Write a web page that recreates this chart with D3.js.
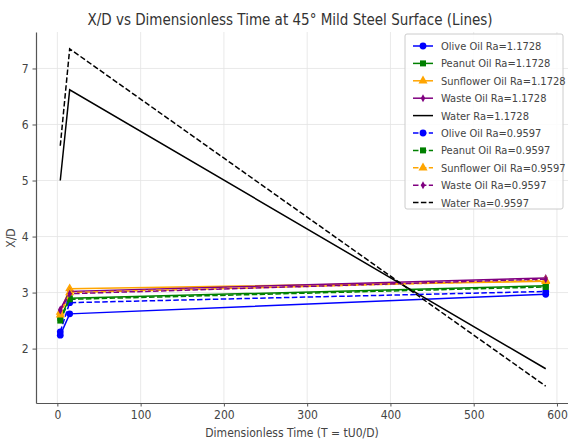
<!DOCTYPE html>
<html>
<head>
<meta charset="utf-8">
<script src="https://cdn.jsdelivr.net/npm/d3@7/dist/d3.min.js"></script>
<style>
  html, body { margin: 0; padding: 0; background: #fff; }
  svg { display: block; font-family: "DejaVu Sans Condensed", "DejaVu Sans", sans-serif; }
</style>
</head>
<body>
<svg id="chart" width="568" height="442"></svg>
<script>
// Dimensionless time samples shared by every series
const times = [3.5, 14.8, 586.5];

// X/D for surface roughness Ra = 1.1728 (solid lines)
const oliveA     = [2.24, 2.62, 2.97];
const peanutA    = [2.55, 2.90, 3.12];
const sunflowerA = [2.65, 3.07, 3.20];
const wasteA     = [2.70, 3.02, 3.26];
const waterA     = [5.00, 6.62, 1.64];

// X/D for surface roughness Ra = 0.9597 (dashed lines)
const oliveB     = [2.30, 2.82, 3.02];
const peanutB    = [2.50, 2.88, 3.10];
const sunflowerB = [2.60, 3.00, 3.22];
const wasteB     = [2.68, 2.98, 3.24];
const waterB     = [5.62, 7.35, 1.33];

const xTicks = [0, 100, 200, 300, 400, 500, 600];
const yTicks = [2, 3, 4, 5, 6, 7];

const series = [
  { name: "Olive Oil Ra=1.1728",     values: oliveA,     color: "#0000ff", marker: "circle",   dash: null },
  { name: "Peanut Oil Ra=1.1728",    values: peanutA,    color: "#008000", marker: "square",   dash: null },
  { name: "Sunflower Oil Ra=1.1728", values: sunflowerA, color: "#ffa500", marker: "triangle", dash: null },
  { name: "Waste Oil Ra=1.1728",     values: wasteA,     color: "#800080", marker: "diamond",  dash: null },
  { name: "Water Ra=1.1728",         values: waterA,     color: "#000000", marker: null,       dash: null },
  { name: "Olive Oil Ra=0.9597",     values: oliveB,     color: "#0000ff", marker: "circle",   dash: "5.5,2.4" },
  { name: "Peanut Oil Ra=0.9597",    values: peanutB,    color: "#008000", marker: "square",   dash: "5.5,2.4" },
  { name: "Sunflower Oil Ra=0.9597", values: sunflowerB, color: "#ffa500", marker: "triangle", dash: "5.5,2.4" },
  { name: "Waste Oil Ra=0.9597",     values: wasteB,     color: "#800080", marker: "diamond",  dash: "5.5,2.4" },
  { name: "Water Ra=0.9597",         values: waterB,     color: "#000000", marker: null,       dash: "5.5,2.4" }
];

const svg = d3.select("#chart");
const margin = { left: 36, right: -2, top: 32, bottom: 39 };
const W = 568, H = 442;

// Axis domains padded 5% around the data, like an autoscaled plot
const allY = series.flatMap(s => s.values);
const xExt = d3.extent(times), yExt = d3.extent(allY);
const xPad = (xExt[1] - xExt[0]) * 0.05, yPad = (yExt[1] - yExt[0]) * 0.05;

const x = d3.scaleLinear().domain([xExt[0] - xPad, xExt[1] + xPad]).range([margin.left, W - margin.right]);
const y = d3.scaleLinear().domain([yExt[0] - yPad, yExt[1] + yPad]).range([H - margin.bottom, margin.top]);

// Grid
const grid = svg.append("g");
grid.selectAll("line.gx").data(xTicks).join("line")
  .attr("x1", d => x(d)).attr("x2", d => x(d))
  .attr("y1", y.range()[1]).attr("y2", y.range()[0])
  .attr("stroke", "#e3e3e3").attr("stroke-width", 0.8);
grid.selectAll("line.gy").data(yTicks).join("line")
  .attr("y1", d => y(d)).attr("y2", d => y(d))
  .attr("x1", x.range()[0]).attr("x2", x.range()[1])
  .attr("stroke", "#e3e3e3").attr("stroke-width", 0.8);

// Axes
const xAxis = svg.append("g").attr("transform", `translate(0,${y.range()[0]})`)
  .call(d3.axisBottom(x).tickValues(xTicks).tickFormat(d3.format("d"))
    .tickSize(3.5).tickPadding(4).tickSizeOuter(0));
const yAxis = svg.append("g").attr("transform", `translate(${x.range()[0]},0)`)
  .call(d3.axisLeft(y).tickValues(yTicks).tickFormat(d3.format("d"))
    .tickSize(3.5).tickPadding(4).tickSizeOuter(0));
[xAxis, yAxis].forEach(a => {
  a.select(".domain").attr("stroke", "#555").attr("stroke-width", 1.2);
  a.selectAll(".tick line").attr("stroke", "#555");
  a.selectAll(".tick text").attr("fill", "#444").style("font-size", "12px")
    .style("font-family", "'DejaVu Sans Condensed', 'DejaVu Sans', sans-serif");
});

// Marker shapes
const symbolFor = m => ({
  circle: d3.symbolCircle, square: d3.symbolSquare,
  triangle: d3.symbolTriangle, diamond: d3.symbolDiamond
})[m];
const symbolPath = (m, size) => {
  if (m === "diamond") return "M0,-4L2.2,0L0,4L-2.2,0Z";
  return d3.symbol(symbolFor(m), size)();
};

const line = d3.line().x((d, i) => x(times[i])).y(d => y(d));

const plot = svg.append("g");
series.forEach(s => {
  plot.append("path").datum(s.values)
    .attr("d", line).attr("fill", "none")
    .attr("stroke", s.color).attr("stroke-width", 1.5)
    .attr("stroke-dasharray", s.dash);
  if (s.marker) {
    plot.selectAll(null).data(s.values).join("path")
      .attr("transform", (d, i) => `translate(${x(times[i])},${y(d)})`)
      .attr("d", symbolPath(s.marker, 36))
      .attr("fill", s.color);
  }
});

// Title and axis labels
svg.append("text").attr("x", 290).attr("y", 25).attr("text-anchor", "middle")
  .style("font-size", "15px").attr("fill", "#333")
  .text("X/D vs Dimensionless Time at 45° Mild Steel Surface (Lines)");
svg.append("text").attr("x", 292).attr("y", 437).attr("text-anchor", "middle")
  .style("font-size", "12px").attr("fill", "#444")
  .text("Dimensionless Time (T = tU0/D)");
svg.append("text").attr("transform", "translate(15,238) rotate(-90)").attr("text-anchor", "middle")
  .style("font-size", "12px").attr("fill", "#444").text("X/D");

// Legend
const lg = svg.append("g").attr("transform", "translate(405,34)");
lg.append("rect").attr("width", 158).attr("height", 175).attr("rx", 2)
  .attr("fill", "#fff").attr("fill-opacity", 0.85).attr("stroke", "#ccc");
series.forEach((s, i) => {
  const row = lg.append("g").attr("transform", `translate(0,${12 + i * 17.4})`);
  row.append("line").attr("x1", 8).attr("x2", 28).attr("y1", 0).attr("y2", 0)
    .attr("stroke", s.color).attr("stroke-width", 1.5).attr("stroke-dasharray", s.dash);
  if (s.marker) {
    row.append("path").attr("transform", "translate(18,0)")
      .attr("d", symbolPath(s.marker, 36)).attr("fill", s.color);
  }
  row.append("text").attr("x", 36).attr("y", 4).style("font-size", "11px")
    .attr("fill", "#444").text(s.name);
});
</script>
</body>
</html>
